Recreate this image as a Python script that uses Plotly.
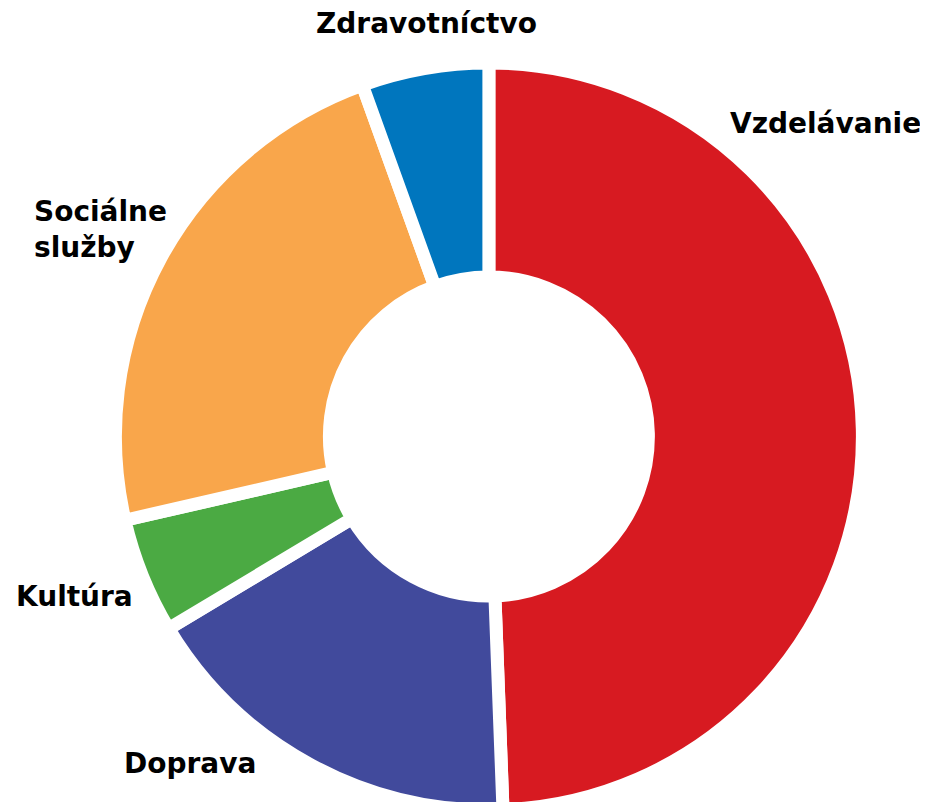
import plotly.graph_objects as go

# Data (share of budget, %), clockwise from 12 o'clock
categories = ["Vzdelávanie", "Doprava", "Kultúra", "Sociálne služby", "Zdravotníctvo"]
values = [49.4, 17.0, 5.0, 23.1, 5.5]
colors = ["#D71A21", "#414A9C", "#4BAA43", "#F9A64B", "#0076BE"]

W, H = 928, 802
FONT = dict(family="'DejaVu Sans', Verdana, sans-serif", size=28, color="#000000", weight="bold")

# pie geometry in figure pixels
CX, CY, R = 480.9, 428.5, 373.5

fig = go.Figure(
    go.Pie(
        labels=categories,
        values=values,
        sort=False,
        direction="clockwise",
        rotation=0,
        hole=0.427,
        marker=dict(colors=colors, line=dict(color="#FFFFFF", width=13)),
        textinfo="none",
        hoverinfo="label+percent",
        showlegend=False,
        domain=dict(x=[(CX - R) / W, (CX + R) / W], y=[(H - CY - R) / H, (H - CY + R) / H]),
    )
)

# label placements (figure pixel coords -> paper)
labels_pos = [
    ("Zdravotníctvo", 418.5, 15, "center", "center"),
    ("Vzdelávanie", 915, 116, "right", "right"),
    ("Sociálne<br>služby", 24, 221, "left", "left"),
    ("Kultúra", 66.2, 588, "center", "center"),
    ("Doprava", 182, 755, "center", "center"),
]
for txt, px, py, xa, al in labels_pos:
    fig.add_annotation(
        text=txt, x=px / W, y=1 - py / H, xref="paper", yref="paper",
        xanchor=xa, yanchor="middle", align=al, showarrow=False, font=FONT,
    )

fig.update_layout(
    width=W, height=H,
    margin=dict(l=0, r=0, t=0, b=0),
    paper_bgcolor="#FFFFFF",
    plot_bgcolor="#FFFFFF",
)

fig.write_html("out.html")
